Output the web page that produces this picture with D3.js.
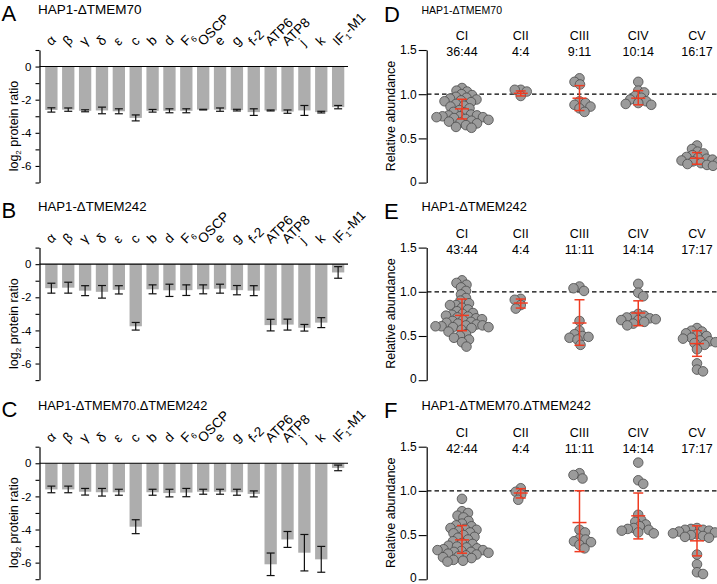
<!DOCTYPE html>
<html><head><meta charset="utf-8">
<script src="https://cdn.jsdelivr.net/npm/d3@7"></script>
<style>body{margin:0;background:#fff}</style>
</head><body>
<script>
// ---------- DATA ----------
const subunits = ["α","β","γ","δ","ε","c","b","d","F_6","OSCP","e","g","f-2","ATP6","ATP8","j","k","IF_1-M1"];
const barTitles = ["HAP1-ΔTMEM70","HAP1-ΔTMEM242","HAP1-ΔTMEM70.ΔTMEM242"];
const barLetters = ["A","B","C"];
const barTicks = [1,0,-1,-2,-3,-4,-5,-6,-7];
const barTickLabels = [0,-2,-4,-6];

const meanA = [-2.62,-2.6,-2.67,-2.65,-2.7,-3.1,-2.67,-2.67,-2.67,-2.6,-2.6,-2.63,-2.75,-2.65,-2.72,-2.65,-2.75,-2.45];
const errA  = [0.13,0.1,0.06,0.2,0.15,0.18,0.08,0.12,0.12,0.02,0.1,0.05,0.2,0.03,0.1,0.3,0.05,0.1];
const meanB = [-1.45,-1.42,-1.6,-1.67,-1.55,-3.75,-1.52,-1.58,-1.57,-1.52,-1.48,-1.57,-1.6,-3.68,-3.65,-3.84,-3.53,-0.5];
const errB  = [0.3,0.33,0.3,0.38,0.25,0.23,0.27,0.37,0.32,0.27,0.27,0.28,0.3,0.35,0.33,0.2,0.3,0.35];
const meanC = [-1.58,-1.58,-1.72,-1.75,-1.75,-3.83,-1.75,-1.8,-1.77,-1.72,-1.72,-1.75,-1.85,-6.1,-4.6,-5.4,-5.8,-0.28];
const errC  = [0.2,0.2,0.2,0.23,0.18,0.42,0.18,0.23,0.25,0.15,0.15,0.18,0.18,0.68,0.48,1.1,0.78,0.17];

const complexes = ["CI","CII","CIII","CIV","CV"];
const scatterLetters = ["D","E","F"];
const scatterTitles = ["HAP1-ΔTMEM70","HAP1-ΔTMEM242","HAP1-ΔTMEM70.ΔTMEM242"];
const countsD = ["36:44","4:4","9:11","10:14","16:17"];
const countsE = ["43:44","4:4","11:11","14:14","17:17"];
const countsF = ["42:44","4:4","11:11","14:14","17:17"];
const scatterTicks = [0,0.5,1.0,1.5];

const pointsD = [
 [1.07,1.04,1.03,1.00,0.99,0.97,0.96,0.95,0.94,0.93,0.92,0.91,0.89,0.87,0.86,0.84,0.82,0.80,0.79,0.77,0.76,0.76,0.75,0.75,0.74,0.74,0.73,0.72,0.71,0.70,0.69,0.68,0.67,0.65,0.63,0.62],
 [1.05,0.98,1.03,1.05],
 [1.18,1.14,1.11,0.92,0.90,0.88,0.86,0.84,0.80],
 [1.14,1.04,1.02,0.98,0.96,0.94,0.92,0.90,0.89,0.88],
 [0.42,0.38,0.35,0.33,0.31,0.29,0.28,0.27,0.26,0.25,0.24,0.23,0.22,0.21,0.20,0.19]
];
const pointsE = [
 [1.13,1.10,1.08,1.05,1.01,0.97,0.93,0.90,0.87,0.85,0.85,0.82,0.80,0.78,0.76,0.75,0.74,0.73,0.72,0.71,0.70,0.69,0.68,0.67,0.66,0.65,0.64,0.63,0.62,0.62,0.61,0.61,0.60,0.60,0.59,0.57,0.55,0.52,0.50,0.48,0.46,0.43,0.38],
 [0.92,0.81,0.91,0.85],
 [1.06,1.04,1.01,0.67,0.56,0.52,0.50,0.49,0.48,0.46,0.40],
 [1.09,0.99,0.95,0.75,0.73,0.72,0.71,0.70,0.69,0.68,0.68,0.66,0.64,0.62],
 [0.59,0.56,0.55,0.53,0.51,0.50,0.48,0.47,0.45,0.44,0.43,0.42,0.40,0.35,0.19,0.12,0.10]
];
const pointsF = [
 [0.91,0.77,0.75,0.72,0.70,0.66,0.63,0.61,0.60,0.58,0.57,0.56,0.55,0.53,0.52,0.50,0.48,0.47,0.45,0.43,0.41,0.40,0.38,0.37,0.36,0.35,0.34,0.33,0.33,0.32,0.31,0.31,0.30,0.29,0.28,0.27,0.26,0.25,0.24,0.22,0.21,0.20],
 [1.03,0.90,0.99,0.96],
 [1.20,1.18,1.14,0.56,0.53,0.46,0.45,0.43,0.42,0.39,0.35],
 [1.32,1.12,1.08,0.73,0.67,0.65,0.62,0.60,0.58,0.57,0.56,0.55,0.53,0.52],
 [0.58,0.57,0.56,0.56,0.55,0.54,0.53,0.52,0.51,0.50,0.49,0.48,0.47,0.28,0.17,0.08,0.06]
];
// mean, lower, upper of red summary bars
const sumMeanD = [0.834,1.01,0.955,0.955,0.276], sumLoD = [0.72,0.98,0.815,0.88,0.208], sumHiD = [0.943,1.037,1.097,1.04,0.34];
const sumMeanE = [0.733,0.873,0.647,0.76,0.414], sumLoE = [0.56,0.816,0.395,0.617,0.27], sumHiE = [0.918,0.918,0.91,0.898,0.56];
const sumMeanF = [0.446,0.976,0.642,0.718,0.435], sumLoF = [0.295,0.92,0.313,0.457,0.265], sumHiF = [0.608,1.025,1.002,0.976,0.605];

// ---------- DRAW ----------
const W = 717, H = 584;
const FONT = "'Liberation Sans', Arial, Helvetica, sans-serif";
const svg = d3.select("body").append("svg").attr("width", W).attr("height", H)
  .style("font-family", FONT);
svg.append("rect").attr("width", W).attr("height", H).attr("fill", "#fff");

const rowOff = [0, 197.6, 396.7];
const RED = "#f03c22";

function richText(sel, label, subSize) {
  const parts = label.split(/_(\d)/);
  parts.forEach((p, i) => {
    if (p === "") return;
    if (i % 2 === 1) sel.append("tspan").attr("font-size", subSize).attr("dy", 3).text(p);
    else {
      const t = sel.append("tspan").text(p);
      if (i > 0) t.attr("dy", -3);
    }
  });
}

// bar panels
const barMeans = [meanA, meanB, meanC], barErrs = [errA, errB, errC];
const barTitleSize = [13.5, 13.2, 12.8];
const x = d3.scaleBand().domain(d3.range(subunits.length)).range([41, 348.5]).paddingInner(0.27).paddingOuter(0.25);
const yb = d3.scaleLinear().domain([1, -7]).range([50, 182.5]);

barMeans.forEach((means, pi) => {
  const g = svg.append("g").attr("transform", `translate(0,${rowOff[pi]})`);
  const errs = barErrs[pi];
  g.append("text").attr("x", 1.5).attr("y", 20.5).attr("font-size", 22).text(barLetters[pi]);
  g.append("text").attr("x", 38).attr("y", 13.5).attr("font-size", barTitleSize[pi]).text(barTitles[pi]);

  g.selectAll("rect.bar").data(means).join("rect").attr("class", "bar")
    .attr("x", (d, i) => x(i)).attr("width", x.bandwidth())
    .attr("y", yb(0)).attr("height", d => yb(d) - yb(0)).attr("fill", "#adadad");

  const eb = g.selectAll("g.eb").data(means).join("g").attr("class", "eb")
    .attr("stroke", "#111").attr("stroke-width", 1.2);
  const cx = i => x(i) + x.bandwidth() / 2;
  eb.append("line").attr("x1", (d, i) => cx(i)).attr("x2", (d, i) => cx(i))
    .attr("y1", (d, i) => yb(d + errs[i])).attr("y2", (d, i) => yb(d - errs[i]));
  eb.append("line").attr("x1", (d, i) => cx(i) - 4).attr("x2", (d, i) => cx(i) + 4)
    .attr("y1", (d, i) => yb(d + errs[i])).attr("y2", (d, i) => yb(d + errs[i]));
  eb.append("line").attr("x1", (d, i) => cx(i) - 4).attr("x2", (d, i) => cx(i) + 4)
    .attr("y1", (d, i) => yb(d - errs[i])).attr("y2", (d, i) => yb(d - errs[i]));

  g.append("line").attr("x1", 39.5).attr("x2", 348).attr("y1", yb(0)).attr("y2", yb(0))
    .attr("stroke", "#000").attr("stroke-width", 1.1);

  const ax = g.append("g").attr("transform", "translate(39.5,0)")
    .call(d3.axisLeft(yb).tickValues(barTicks).tickSize(4).tickSizeOuter(0).tickPadding(4)
      .tickFormat(d => barTickLabels.includes(d) ? String(d) : ""));
  ax.select(".domain").attr("stroke-width", 1.2);
  ax.selectAll(".tick line").attr("stroke-width", 1.1);
  ax.selectAll("text").attr("font-size", 11.5).attr("font-family", FONT).attr("fill", "#000");

  const yl = g.append("text").attr("transform", "translate(17.5,126) rotate(-90)")
    .attr("text-anchor", "middle").attr("font-size", 12.5);
  yl.append("tspan").text("log");
  yl.append("tspan").attr("font-size", 8).attr("dy", 3).text("2");
  yl.append("tspan").attr("dy", -3).text(" protein ratio");

  subunits.forEach((s, i) => {
    const t = g.append("text").attr("font-size", 13.5)
      .attr("transform", `translate(${cx(i)},${yb(0) - 20}) rotate(-45)`);
    richText(t, s, 8.5);
  });
});

// scatter panels
function swarm(values, ys, d) {
  const pts = values.map(v => ({ v, y: ys(v) })).sort((a, b) => a.y - b.y);
  const placed = [];
  pts.forEach((p, idx) => {
    let found = null;
    for (let k = 0; k < 200 && found === null; k++) {
      const cands = k === 0 ? [0] : (idx % 2 ? [-k * 0.5, k * 0.5] : [k * 0.5, -k * 0.5]);
      for (const o of cands) {
        if (placed.every(q => (q.x - o) ** 2 + (q.y - p.y) ** 2 >= d * d)) { found = o; break; }
      }
    }
    p.x = found; placed.push(p);
  });
  return pts;
}

const scatterPts = [pointsD, pointsE, pointsF];
const scatterCounts = [countsD, countsE, countsF];
const scatterTitleSize = [10.5, 12.8, 12.8];
const sMeans = [sumMeanD, sumMeanE, sumMeanF], sLos = [sumLoD, sumLoE, sumLoF], sHis = [sumHiD, sumHiE, sumHiF];
const ys = d3.scaleLinear().domain([0, 1.5]).range([182.6, 50]);
const xs = d3.scalePoint().domain(complexes).range([462, 697]);

scatterPts.forEach((groups, pi) => {
  const g = svg.append("g").attr("transform", `translate(0,${rowOff[pi]})`);
  g.append("text").attr("x", 384).attr("y", 21.5).attr("font-size", 22).text(scatterLetters[pi]);
  g.append("text").attr("x", 421.5).attr("y", 13.5).attr("font-size", scatterTitleSize[pi]).attr("fill", "#000").text(scatterTitles[pi]);

  const ax = g.append("g").attr("transform", "translate(426.7,0)")
    .call(d3.axisLeft(ys).tickValues(scatterTicks).tickSize(8).tickSizeOuter(0).tickPadding(2)
      .tickFormat(d => d === 0 ? "0" : d3.format(".1f")(d)));
  ax.select(".domain").attr("stroke-width", 1.2);
  ax.selectAll(".tick line").attr("stroke-width", 1.1);
  ax.selectAll("text").attr("font-size", 12).attr("font-family", FONT).attr("fill", "#000")
    .attr("dy", d => d === 0 ? "0.2em" : "0.32em");

  g.append("text").attr("transform", "translate(395,116) rotate(-90)")
    .attr("text-anchor", "middle").attr("font-size", 12.5).text("Relative abundance");

  g.append("line").attr("x1", 427).attr("x2", 717).attr("y1", ys(1)).attr("y2", ys(1))
    .attr("stroke", "#000").attr("stroke-width", 1.3).attr("stroke-dasharray", "4.5,3");

  complexes.forEach((c, ci) => {
    g.append("text").attr("x", xs(c)).attr("y", 40).attr("text-anchor", "middle").attr("font-size", 12.5).text(c);
    g.append("text").attr("x", xs(c)).attr("y", 56).attr("text-anchor", "middle").attr("font-size", 12.5).text(scatterCounts[pi][ci]);

    const pts = swarm(groups[ci], ys, 6);
    g.selectAll(null).data(pts).join("circle")
      .attr("cx", d => xs(c) + d.x).attr("cy", d => d.y).attr("r", 4.8)
      .attr("fill", "#9b9b9b").attr("stroke", "#4a4a4a").attr("stroke-width", 0.8);
  });

  complexes.forEach((c, ci) => {
    const cx = xs(c), m = sMeans[pi][ci], lo = sLos[pi][ci], hi = sHis[pi][ci];
    const rg = g.append("g").attr("stroke", RED).attr("stroke-width", 1.5);
    rg.append("line").attr("x1", cx).attr("x2", cx).attr("y1", ys(lo)).attr("y2", ys(hi));
    rg.append("line").attr("x1", cx - 5).attr("x2", cx + 5).attr("y1", ys(lo)).attr("y2", ys(lo));
    rg.append("line").attr("x1", cx - 5).attr("x2", cx + 5).attr("y1", ys(hi)).attr("y2", ys(hi));
    rg.append("line").attr("x1", cx - 7).attr("x2", cx + 7).attr("y1", ys(m)).attr("y2", ys(m));
  });
});
</script>
</body></html>
